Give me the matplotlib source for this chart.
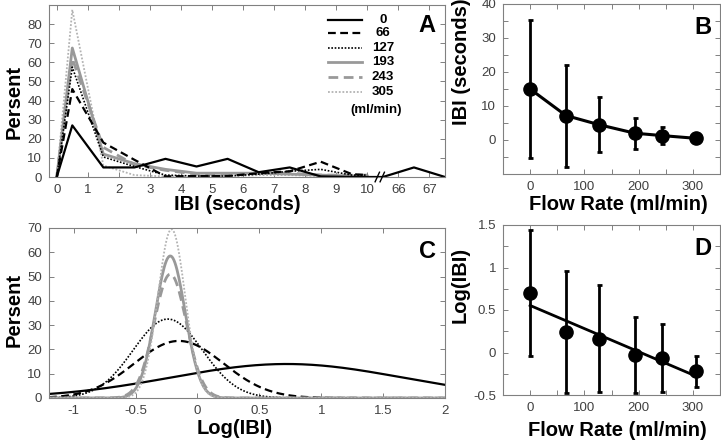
import numpy as np
import matplotlib
matplotlib.use("Agg")
import matplotlib.pyplot as plt
from matplotlib.ticker import MultipleLocator

plt.rcParams['font.family'] = ['Liberation Sans', 'DejaVu Sans']

# ---- data ----
flows = [0, 66, 127, 193, 243, 305]
flow_labels = ['0', '66', '127', '193', '243', '305']

# panel A: IBI histograms (percent) per flow rate
ibi_bins = [0, 0.5, 1.5, 2.5, 3.5, 4.5, 5.5, 6.5, 7.5, 8.5, 9.5, 10]
hist_0 = [0, 27, 5, 5, 9.5, 5.5, 9.5, 2.5, 5, 0.3, 0, 0]
hist_66 = [0, 46, 18, 9, 0.3, 0.5, 0.5, 2, 3, 8, 1.5, 1]
hist_127 = [0, 57.5, 10.5, 5.5, 1, 0.5, 0.5, 1.5, 3, 4, 1, 1]
hist_193 = [0, 67.5, 12, 7, 4, 2, 2, 2, 1.5, 1, 0.5, 0.5]
hist_243 = [0, 62, 15.5, 6.5, 3.5, 1.5, 1.5, 2, 2, 1, 1, 1]
hist_305 = [0, 87.5, 6, 1, 0.3, 0.3, 0.5, 1, 1, 0.5, 0.5, 0.5]
tail_bins = [65.5, 66.5, 67.5]   # only flow 0 has long intervals
tail_0 = [0, 5, 0]
a_tick_labels = ['0', '1', '2', '3', '4', '5', '6', '7', '8', '9', '10', '66', '67']

# panel B: mean IBI +- SD
ibi_mean = [15, 7.2, 4.5, 2.0, 1.3, 0.5]
ibi_sd = [20.4, 15.0, 8.0, 4.6, 2.5, 0.4]

# panel C: normal fits of log(IBI): peak (percent), mean, sd
fit_peak = [14, 23.5, 32.5, 58.5, 51, 69.5]
fit_mean = [0.72, -0.15, -0.24, -0.22, -0.22, -0.21]
fit_sd = [0.93, 0.36, 0.28, 0.12, 0.13, 0.11]

# panel D: mean log(IBI) +- SD
log_mean = [0.70, 0.24, 0.16, -0.03, -0.07, -0.22]
log_sd = [0.74, 0.72, 0.63, 0.45, 0.40, 0.18]

# ---- styles ----
styles = [
    dict(color='black', ls='-', lw=1.6),
    dict(color='black', ls=(0, (3.5, 2)), lw=1.6),
    dict(color='black', ls=(0, (1, 1)), lw=1.2),
    dict(color='#999999', ls='-', lw=2.0),
    dict(color='#999999', ls=(0, (3.5, 2)), lw=2.0),
    dict(color='#b3b3b3', ls=(0, (1, 1)), lw=1.3),
]
spine_col = '#808080'
tick_col = '#404040'


def style_axes(ax):
    for s in ax.spines.values():
        s.set_color(spine_col)
        s.set_linewidth(0.8)
    ax.tick_params(which='both', direction='in', top=True, right=True,
                   length=3.5, width=0.7, color=spine_col, labelsize=9.5,
                   labelcolor=tick_col, pad=5)


def ibi_pos(x):
    # broken axis: values above 10 s are shifted to sit after the break
    x = np.asarray(x, dtype=float)
    return np.where(x <= 10, x, x - 55)


fig = plt.figure(figsize=(7.21, 4.43), dpi=100)
W, H = 721, 443


def add_ax(x0, y0, x1, y1):
    return fig.add_axes([x0 / W, 1 - y1 / H, (x1 - x0) / W, (y1 - y0) / H])


axA = add_ax(49, 5, 445, 177)
axB = add_ax(503, 4, 720, 174)
axC = add_ax(49, 228, 445, 398)
axD = add_ax(503, 225, 720, 395)

# ---- A ----
hists = [hist_0, hist_66, hist_127, hist_193, hist_243, hist_305]
for i in range(5, -1, -1):
    xs = list(ibi_bins)
    ys = list(hists[i])
    if i == 0:
        xs += tail_bins
        ys += tail_0
    axA.plot(ibi_pos(xs), ys, **styles[i])
axA.set_xlim(-0.25, 12.5)
axA.set_ylim(0, 90)
axA.set_xticks(range(13))
axA.set_xticklabels(a_tick_labels)
axA.set_yticks(range(0, 90, 10))
style_axes(axA)
# break marks
for dx in (-0.08, 0.08):
    axA.plot([10.33 + dx, 10.47 + dx], [-2.5, 2.5], color='black', lw=1.0,
             clip_on=False, zorder=5)
# hand-drawn legend
row_y = [0.913, 0.837, 0.750, 0.669, 0.581, 0.494]
for i in range(6):
    axA.plot([0.705, 0.79], [row_y[i]] * 2, transform=axA.transAxes, **styles[i])
    axA.text(0.843, row_y[i], flow_labels[i], transform=axA.transAxes,
             ha='center', va='center', fontsize=9.5, fontweight='bold')
axA.text(0.826, 0.39, '(ml/min)', transform=axA.transAxes, ha='center',
         va='center', fontsize=9.5, fontweight='bold')
axA.text(0.955, 0.88, 'A', transform=axA.transAxes, ha='center', va='center',
         fontsize=17, fontweight='bold')

# ---- B ----
axB.errorbar(flows, ibi_mean, yerr=ibi_sd, color='black', lw=2.2,
             elinewidth=2.0, capsize=1.8, capthick=2.0, marker='o',
             markersize=9.5, mfc='black', mec='black')
axB.set_xlim(-50, 350)
axB.set_ylim(-10, 40)
axB.set_xticks([0, 100, 200, 300])
axB.xaxis.set_minor_locator(MultipleLocator(50))
axB.set_yticks([0, 10, 20, 30, 40])
axB.yaxis.set_minor_locator(MultipleLocator(5))
style_axes(axB)
axB.text(0.92, 0.86, 'B', transform=axB.transAxes, ha='center', va='center',
         fontsize=17, fontweight='bold')

# ---- C ----
xc = np.linspace(-1.2, 2.0, 400)
for i in range(6):
    yc = fit_peak[i] * np.exp(-(xc - fit_mean[i]) ** 2 / (2 * fit_sd[i] ** 2))
    axC.plot(xc, yc, **styles[i])
axC.set_xlim(-1.2, 2.0)
axC.set_ylim(0, 70)
axC.set_xticks([-1, -0.5, 0, 0.5, 1, 1.5, 2])
axC.set_xticklabels(['-1', '-0.5', '0', '0.5', '1', '1.5', '2'])
axC.set_yticks(range(0, 80, 10))
style_axes(axC)
axC.text(0.955, 0.86, 'C', transform=axC.transAxes, ha='center', va='center',
         fontsize=17, fontweight='bold')

# ---- D ----
axD.errorbar(flows, log_mean, yerr=log_sd, color='black', ls='none',
             elinewidth=2.0, capsize=1.8, capthick=2.0, marker='o',
             markersize=9.5, mfc='black', mec='black')
slope, icpt = np.polyfit(flows, log_mean, 1)
fx = np.array([flows[0], flows[-1]])
axD.plot(fx, icpt + slope * fx, color='black', lw=2.0)
axD.set_xlim(-50, 350)
axD.set_ylim(-0.5, 1.5)
axD.set_xticks([0, 100, 200, 300])
axD.xaxis.set_minor_locator(MultipleLocator(50))
axD.set_yticks([-0.5, 0, 0.5, 1, 1.5])
axD.set_yticklabels(['-0.5', '0', '0.5', '1', '1.5'])
axD.yaxis.set_minor_locator(MultipleLocator(0.25))
style_axes(axD)
axD.text(0.92, 0.86, 'D', transform=axD.transAxes, ha='center', va='center',
         fontsize=17, fontweight='bold')

# ---- axis labels ----
lab = dict(fontsize=14.5, fontweight='bold', ha='center', va='center')
fig.text(237 / W, 1 - 205 / H, 'IBI (seconds)', **lab)
fig.text(618 / W, 1 - 205 / H, 'Flow Rate (ml/min)', **lab)
fig.text(235 / W, 1 - 428 / H, 'Log(IBI)', **lab)
fig.text(617 / W, 1 - 430 / H, 'Flow Rate (ml/min)', **lab)
fig.text(14 / W, 1 - 102 / H, 'Persent', rotation=90, **lab)
fig.text(14 / W, 1 - 310 / H, 'Persent', rotation=90, **lab)
fig.text(461 / W, 1 - 62 / H, 'IBI (seconds)', rotation=90, **lab)
fig.text(460 / W, 1 - 285 / H, 'Log(IBI)', rotation=90, **lab)

fig.savefig('out.png', dpi=100)
